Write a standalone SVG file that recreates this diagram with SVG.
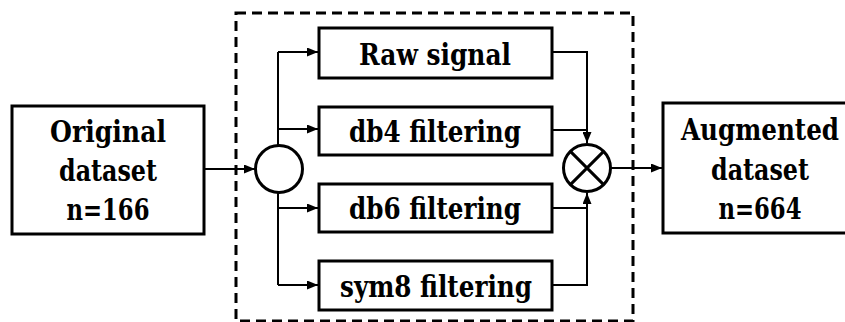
<svg xmlns="http://www.w3.org/2000/svg" width="845" height="322" viewBox="0 0 845 322">
<defs>
<marker id="arr" markerWidth="11" markerHeight="9" refX="11" refY="4.5" orient="auto" markerUnits="userSpaceOnUse">
<path d="M0,0 L11,4.5 L0,9 Z" fill="#000"/>
</marker>
<style>
.box{fill:#fff;stroke:#000;stroke-width:3}
.t{font-family:"DejaVu Serif Condensed","DejaVu Serif",serif;font-stretch:condensed;font-weight:bold;font-size:29px;fill:#000;text-anchor:middle}
.c{fill:none;stroke:#000;stroke-width:2}
.ca{fill:none;stroke:#000;stroke-width:2;marker-end:url(#arr)}
.circ{fill:#fff;stroke:#000;stroke-width:3}
</style>
</defs>
<rect width="845" height="322" fill="#fff"/>
<rect id="group-frame" x="236" y="13" width="397" height="308" fill="none" stroke="#000" stroke-width="3" stroke-dasharray="10 6"/>
<g id="connectors">
<path class="ca" d="M204,169 H255"/>
<path class="c" d="M278,146 V52"/>
<path class="c" d="M278,192 V285"/>
<path class="ca" d="M278,52 H318"/>
<path class="ca" d="M278,129 H318"/>
<path class="ca" d="M278,208 H318"/>
<path class="ca" d="M278,285 H318"/>
<path class="ca" d="M552,52 H587 V143"/>
<path class="c" d="M552,130 H587"/>
<path class="ca" d="M552,285 H587 V193"/>
<path class="c" d="M552,208 H587"/>
<path class="ca" d="M611,168 H662"/>
</g>
<g id="original">
<rect class="box" x="12" y="106" width="192" height="128"/>
<text class="t" x="108" y="142" textLength="116" lengthAdjust="spacingAndGlyphs">Original</text>
<text class="t" x="108" y="181" textLength="98" lengthAdjust="spacingAndGlyphs">dataset</text>
<text class="t" x="108" y="220" textLength="83" lengthAdjust="spacingAndGlyphs">n=166</text>
</g>
<g id="split">
<circle class="circ" cx="279" cy="169" r="23.5"/>
</g>
<g id="raw">
<rect class="box" x="319" y="28" width="233" height="50"/>
<text class="t" x="435" y="65" textLength="152" lengthAdjust="spacingAndGlyphs">Raw signal</text>
</g>
<g id="db4">
<rect class="box" x="319" y="107" width="233" height="48"/>
<text class="t" x="435" y="142" textLength="172" lengthAdjust="spacingAndGlyphs">db4 filtering</text>
</g>
<g id="db6">
<rect class="box" x="319" y="184" width="233" height="48"/>
<text class="t" x="435" y="219" textLength="172" lengthAdjust="spacingAndGlyphs">db6 filtering</text>
</g>
<g id="sym8">
<rect class="box" x="319" y="261" width="233" height="49"/>
<text class="t" x="436" y="297" textLength="192" lengthAdjust="spacingAndGlyphs">sym8 filtering</text>
</g>
<g id="merge">
<circle class="circ" cx="587" cy="168" r="23.5"/>
<path d="M570.4,151.4 L603.6,184.6 M603.6,151.4 L570.4,184.6" stroke="#000" stroke-width="3" fill="none"/>
</g>
<g id="augmented">
<rect class="box" x="663" y="103" width="194" height="130"/>
<text class="t" x="760" y="140" textLength="158" lengthAdjust="spacingAndGlyphs">Augmented</text>
<text class="t" x="760" y="180" textLength="98" lengthAdjust="spacingAndGlyphs">dataset</text>
<text class="t" x="760" y="219" textLength="83" lengthAdjust="spacingAndGlyphs">n=664</text>
</g>
</svg>
